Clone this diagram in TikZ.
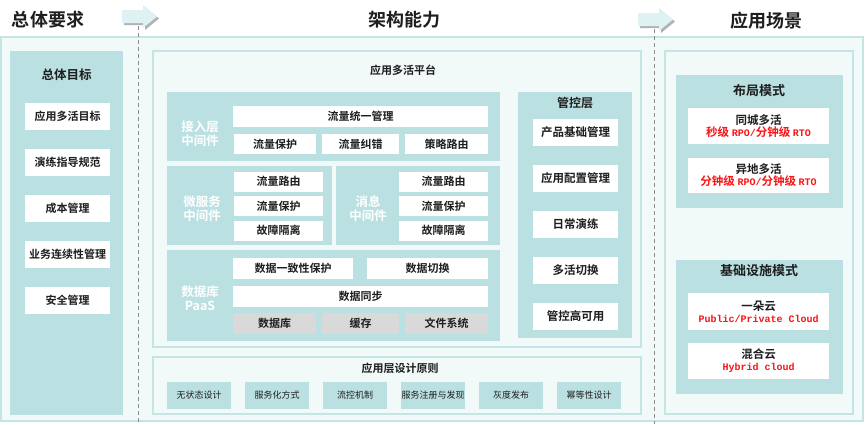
\documentclass[tikz,border=0pt]{standalone}
\usepackage{fontspec}
\setmainfont{Noto Sans CJK SC}[BoldFont={Noto Sans CJK SC Bold}]
\newfontfamily\codefont{Liberation Mono}
\usepackage{xcolor}
\definecolor{tealfill}{RGB}{187,224,226}
\definecolor{palefill}{RGB}{242,249,249}
\definecolor{paleline}{RGB}{196,228,230}
\definecolor{cellgray}{RGB}{217,217,217}
\definecolor{inkred}{RGB}{250,20,20}
\definecolor{ink}{RGB}{30,30,30}
\definecolor{arrowfill}{RGB}{222,241,243}

\tikzset{
  panel/.style={draw=paleline, fill=palefill, line width=1.2pt},
  block/.style={fill=tealfill},
  sep/.style={draw=black!45, dash pattern=on 4pt off 3pt, line width=0.8pt},
  title/.style={text=ink, font=\fontsize{18}{20}\selectfont\bfseries},
  head/.style={text=ink, font=\fontsize{11}{13}\selectfont\bfseries},
  side/.style={text=white, align=center, font=\fontsize{12.5}{14.5}\selectfont\bfseries},
  cell/.style={fill=white, inner sep=0pt, text=ink, font=\fontsize{11}{13}\selectfont\bfseries},
  greycell/.style={cell, fill=cellgray},
  rule/.style={fill=tealfill, inner sep=0pt, text=ink, font=\fontsize{9}{10}\selectfont},
  mode/.style={cell, align=center, font=\fontsize{11.5}{13}\selectfont\bfseries}
}
\newcommand{\rd}[1]{\textcolor{inkred}{#1}}
\newcommand{\rc}[1]{\textcolor{inkred}{\codefont\fontsize{10}{13}\selectfont #1}}

\begin{document}
\begin{tikzpicture}[x=1pt, y=-1pt]
\useasboundingbox (0,0) rectangle (866,424);

% Column titles
\node[title] (reqT) at (48,20) {总体要求};
\node[title] (capT) at (404,20) {架构能力};
\node[title] (scnT) at (766,21) {应用场景};

% Block arrows between the columns
\fill[black!30] (124,12) -- (145,12) -- (145,7) -- (159,18.5) -- (145,30) -- (145,25) -- (124,25) -- cycle;
\fill[arrowfill] (122,10) -- (143,10) -- (143,5) -- (157,16.5) -- (143,28) -- (143,23) -- (122,23) -- cycle;
\fill[black!30] (640,15) -- (661,15) -- (661,10) -- (675,21.5) -- (661,33) -- (661,28) -- (640,28) -- cycle;
\fill[arrowfill] (638,13) -- (659,13) -- (659,8) -- (673,19.5) -- (659,31) -- (659,26) -- (638,26) -- cycle;

% Outer frame
\draw[panel] (1,37) rectangle (863,421);

% Column separators
\draw[sep] (138,26) -- (138,424);
\draw[sep] (654,29) -- (654,424);

% ---- Overall requirements ----
\fill[block] (10,51) rectangle (123,415);
\node[head, font=\fontsize{12.5}{14}\selectfont\bfseries] (goalT) at (66.5,75) {总体目标};
\foreach \txt [count=\i] in {应用多活目标,演练指导规范,成本管理,业务连续性管理,安全管理}
  \node[cell, minimum width=85pt, minimum height=27pt] (goal\i) at (67.5,70+46*\i) {\txt};

% ---- Multi-active platform ----
\draw[panel] (153,51) rectangle (641,347);
\node[head] (platT) at (403,70) {应用多活平台};

% Access layer
\fill[block] (167,92) rectangle (500,161);
\node[side] (accL) at (200,133.5) {接入层\\中间件};
\node[cell, minimum width=255pt, minimum height=21pt] (accAll) at (360.5,116.5) {流量统一管理};
\node[cell, minimum width=82pt, minimum height=20pt] (acc1) at (275,144) {流量保护};
\node[cell, minimum width=77pt, minimum height=20pt] (acc2) at (360.5,144) {流量纠错};
\node[cell, minimum width=83pt, minimum height=20pt] (acc3) at (446.5,144) {策略路由};

% Microservice middleware
\fill[block] (167,166) rectangle (332,245);
\node[side] (msL) at (202,208.5) {微服务\\中间件};
\foreach \txt [count=\i] in {流量路由,流量保护,故障隔离}
  \node[cell, minimum width=89pt, minimum height=20pt] (ms\i) at (278.5,157+24.5*\i) {\txt};

% Message middleware
\fill[block] (336,166) rectangle (500,245);
\node[side] (mqL) at (368,208.5) {消息\\中间件};
\foreach \txt [count=\i] in {流量路由,流量保护,故障隔离}
  \node[cell, minimum width=89pt, minimum height=20pt] (mq\i) at (443.5,157+24.5*\i) {\txt};

% Database PaaS
\fill[block] (167,250) rectangle (500,341);
\node[side] (dbL) at (200,298) {数据库\\PaaS};
\node[cell, minimum width=120pt, minimum height=21pt] (db1) at (293,268.5) {数据一致性保护};
\node[cell, minimum width=121pt, minimum height=21pt] (db2) at (427.5,268.5) {数据切换};
\node[cell, minimum width=255pt, minimum height=21pt] (dbSync) at (360.5,296.5) {数据同步};
\node[greycell, minimum width=83pt, minimum height=21pt] (st1) at (274.5,323.5) {数据库};
\node[greycell, minimum width=77pt, minimum height=21pt] (st2) at (360.5,323.5) {缓存};
\node[greycell, minimum width=83pt, minimum height=21pt] (st3) at (446.5,323.5) {文件系统};

% Control layer
\fill[block] (518,92) rectangle (632,338);
\node[head, font=\fontsize{12}{14}\selectfont\bfseries] (ctlT) at (575,102.5) {管控层};
\foreach \txt [count=\i] in {产品基础管理,应用配置管理,日常演练,多活切换,管控高可用}
  \node[cell, minimum width=85pt, minimum height=27pt, font=\fontsize{11.5}{13}\selectfont\bfseries] (ctl\i) at (575.5,86.5+46*\i) {\txt};

% ---- Application design principles ----
\draw[panel] (153,357) rectangle (641,414);
\node[head] (ruleT) at (400,368) {应用层设计原则};
\foreach \txt [count=\i] in {无状态设计,服务化方式,流控机制,服务注册与发现,灰度发布,幂等性设计}
  \node[rule, minimum width=64pt, minimum height=27pt] (rule\i) at (121+78*\i,395.5) {\txt};

% ---- Scenarios ----
\draw[panel] (665,51) rectangle (853,414);

\fill[block] (676,75) rectangle (843,208);
\node[head, font=\fontsize{13}{15}\selectfont\bfseries] (layT) at (759,91) {布局模式};
\node[mode, minimum width=141pt, minimum height=36pt] (lay1) at (758.5,126)
  {同城多活\\[-1pt]\rd{秒级} \rc{RPO/}\rd{分钟级} \rc{RTO}};
\node[mode, minimum width=141pt, minimum height=35pt] (lay2) at (758.5,175.5)
  {异地多活\\[-1pt]\rd{分钟级} \rc{RPO/}\rd{分钟级} \rc{RTO}};

\fill[block] (676,260) rectangle (843,394);
\node[head, font=\fontsize{13}{15}\selectfont\bfseries] (infT) at (759,271) {基础设施模式};
\node[mode, minimum width=141pt, minimum height=37pt] (inf1) at (758.5,311.5)
  {一朵云\\[-1pt]\rc{Public/Private Cloud}};
\node[mode, minimum width=141pt, minimum height=36pt] (inf2) at (758.5,361)
  {混合云\\[-1pt]\rc{Hybrid cloud}};
\end{tikzpicture}
\end{document}
